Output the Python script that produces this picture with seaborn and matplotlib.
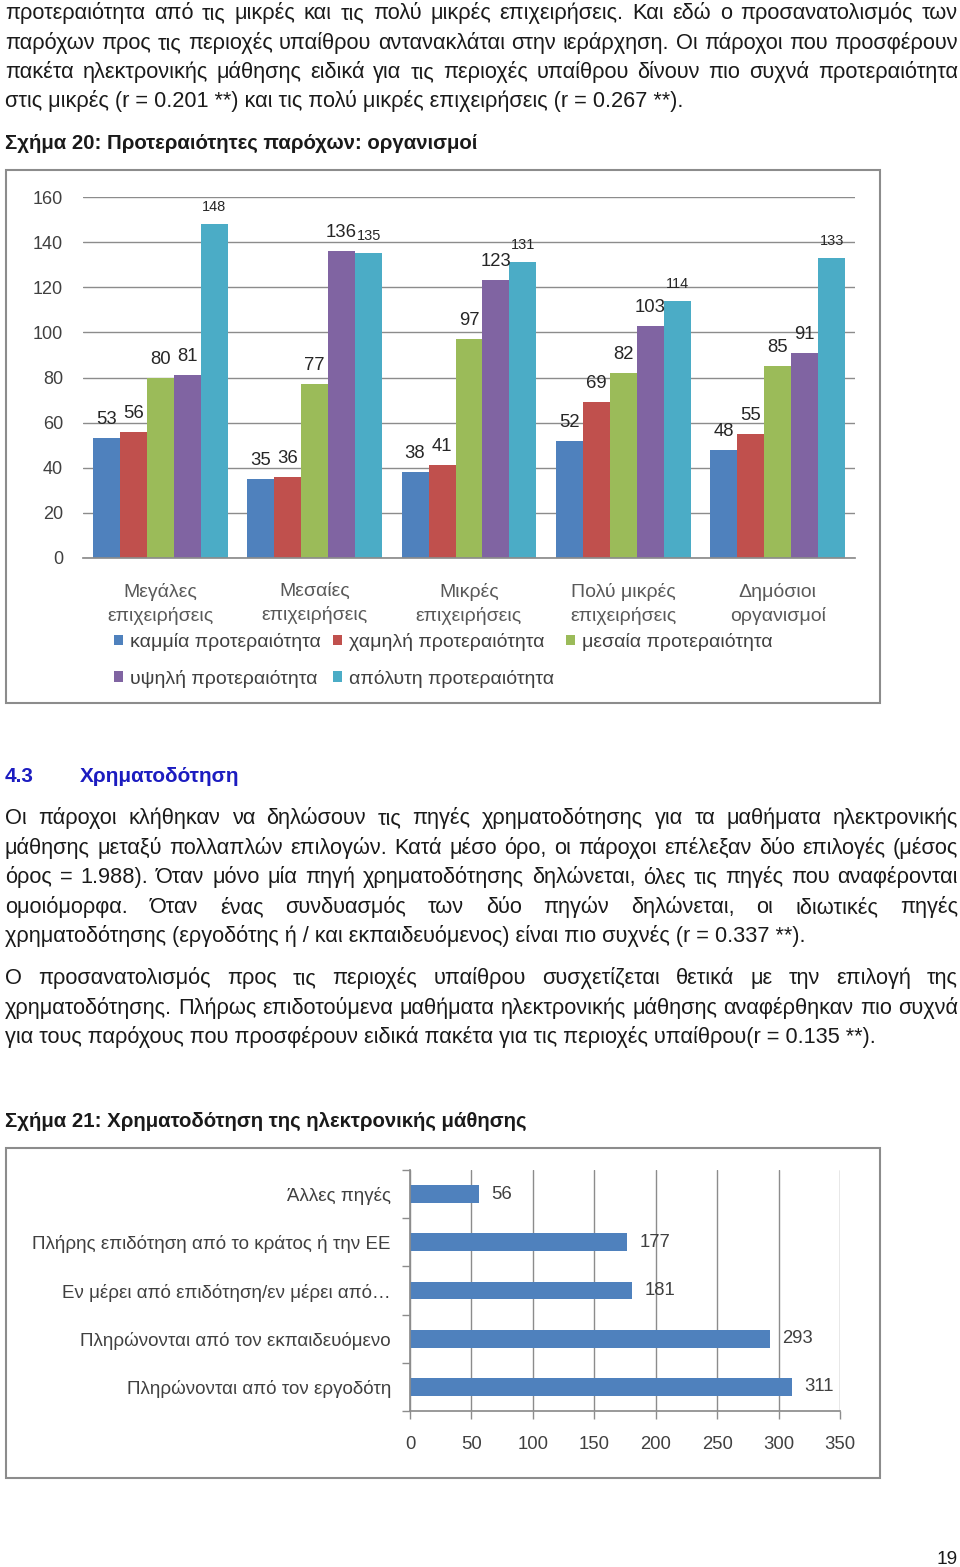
import matplotlib
matplotlib.use("Agg")
import matplotlib.pyplot as plt
import seaborn as sns
import pandas as pd
from matplotlib import font_manager
from matplotlib.patches import Rectangle, Patch

# ---------------- data ----------------
categories = ["Μεγάλες\nεπιχειρήσεις", "Μεσαίες\nεπιχειρήσεις", "Μικρές\nεπιχειρήσεις",
              "Πολύ μικρές\nεπιχειρήσεις", "Δημόσιοι\nοργανισμοί"]
series = ["καμμία προτεραιότητα", "χαμηλή προτεραιότητα", "μεσαία προτεραιότητα",
          "υψηλή προτεραιότητα", "απόλυτη προτεραιότητα"]
none_vals = [53, 35, 38, 52, 48]
low_vals = [56, 36, 41, 69, 55]
mid_vals = [80, 77, 97, 82, 85]
high_vals = [81, 136, 123, 103, 91]
abs_vals = [148, 135, 131, 114, 133]
y1_ticks = [0, 20, 40, 60, 80, 100, 120, 140, 160]

fund_labels = ["Άλλες πηγές", "Πλήρης επιδότηση από το κράτος ή την ΕΕ",
               "Εν μέρει από επιδότηση/εν μέρει από…", "Πληρώνονται από τον εκπαιδευόμενο",
               "Πληρώνονται από τον εργοδότη"]
fund_vals = [56, 177, 181, 293, 311]
x2_ticks = [0, 50, 100, 150, 200, 250, 300, 350]

colors = ["#4F81BD", "#C0504D", "#9BBB59", "#8064A2", "#4BACC6"]

# ---------------- setup ----------------
sns.set_theme(style="white")
names = {f.name for f in font_manager.fontManager.ttflist}
BODY = "Liberation Sans Narrow" if "Liberation Sans Narrow" in names else "Liberation Sans"
plt.rcParams["font.family"] = [BODY, "DejaVu Sans"]

W, H = 960, 1567
fig = plt.figure(figsize=(W / 100, H / 100), dpi=100)
fig.patch.set_facecolor("white")
renderer = fig.canvas.get_renderer()


def fx(x):
    return x / W


def fy(y):
    return 1 - y / H


def pt(p):
    return p * 0.72


TXT = "#1a1a1a"
GRID = "#8c8c8c"
LAB = "#404040"
BS = 21.8  # body text size in px


def line(text, x0, yb, x1=None, size=BS, **kw):
    if x1 is None:
        fig.text(fx(x0), fy(yb), text, fontsize=pt(size), va="baseline", ha="left", color=kw.pop("color", TXT), **kw)
        return
    words = text.split()
    ts = [fig.text(0, 0, w, fontsize=pt(size), va="baseline", ha="left", color=TXT, **kw) for w in words]
    ws = [t.get_window_extent(renderer).width for t in ts]
    gap = (x1 - x0 - sum(ws)) / (len(ws) - 1)
    x = x0
    for t, w in zip(ts, ws):
        t.set_position((fx(x), fy(yb)))
        x += w + gap


# ---------------- page text ----------------
R = 958
line("προτεραιότητα από τις μικρές και τις πολύ μικρές επιχειρήσεις. Και εδώ ο προσανατολισμός των", 5, 19, R)
line("παρόχων προς τις περιοχές υπαίθρου αντανακλάται στην ιεράρχηση. Οι πάροχοι που προσφέρουν", 5, 49, R)
line("πακέτα ηλεκτρονικής μάθησης ειδικά για τις περιοχές υπαίθρου δίνουν πιο συχνά προτεραιότητα", 5, 78, R)
line("στις μικρές (r = 0.201 **) και τις πολύ μικρές επιχειρήσεις (r = 0.267 **).", 5, 107)
line("Σχήμα 20: Προτεραιότητες παρόχων: οργανισμοί", 5, 149, size=20.4, fontweight="bold")

line("4.3", 5, 782, fontweight="bold", color="#1C1CC0", size=20.8)
line("Χρηματοδότηση", 80, 782, fontweight="bold", color="#1C1CC0", size=20.8)

line("Οι πάροχοι κλήθηκαν να δηλώσουν τις πηγές χρηματοδότησης για τα μαθήματα ηλεκτρονικής", 5, 824, R)
line("μάθησης μεταξύ πολλαπλών επιλογών. Κατά μέσο όρο, οι πάροχοι επέλεξαν δύο επιλογές (μέσος", 5, 854, R)
line("όρος = 1.988). Όταν μόνο μία πηγή χρηματοδότησης δηλώνεται, όλες τις πηγές που αναφέρονται", 5, 883, R)
line("ομοιόμορφα. Όταν ένας συνδυασμός των δύο πηγών δηλώνεται, οι ιδιωτικές πηγές", 5, 913, R)
line("χρηματοδότησης (εργοδότης ή / και εκπαιδευόμενος) είναι πιο συχνές (r = 0.337 **).", 5, 942)

line("Ο προσανατολισμός προς τις περιοχές υπαίθρου συσχετίζεται θετικά με την επιλογή της", 5, 984, R)
line("χρηματοδότησης. Πλήρως επιδοτούμενα μαθήματα ηλεκτρονικής μάθησης αναφέρθηκαν πιο συχνά", 5, 1014, R)
line("για τους παρόχους που προσφέρουν ειδικά πακέτα για τις περιοχές υπαίθρου(r = 0.135 **).", 5, 1043)

line("Σχήμα 21: Χρηματοδότηση της ηλεκτρονικής μάθησης", 5, 1127, size=20.4, fontweight="bold")

fig.text(fx(958), fy(1564), "19", fontsize=pt(19), ha="right", va="baseline", color=TXT)

# frames
for (x0, y0, x1, y1) in [(6, 170, 880, 703), (6, 1148, 880, 1478)]:
    fig.add_artist(Rectangle((fx(x0), fy(y1)), fx(x1 - x0), (y1 - y0) / H, transform=fig.transFigure,
                             fill=False, edgecolor=GRID, linewidth=1.5))

# ---------------- chart 1 ----------------
rows = []
for s, vals in zip(series, [none_vals, low_vals, mid_vals, high_vals, abs_vals]):
    for c, v in zip(categories, vals):
        rows.append({"cat": c, "series": s, "val": v})
df1 = pd.DataFrame(rows)

ax1 = fig.add_axes([fx(83), fy(558), fx(855 - 83), (558 - 197) / H])
sns.barplot(data=df1, x="cat", y="val", hue="series", order=categories, hue_order=series,
            palette=colors, saturation=1, width=0.874, linewidth=0, ax=ax1, legend=False)
ax1.set_ylim(0, 160)
ax1.set_yticks(y1_ticks)
ax1.set_xlabel("")
ax1.set_ylabel("")
ax1.yaxis.grid(True, color=GRID, linewidth=1)
ax1.set_axisbelow(True)
for s in ["left", "top", "right"]:
    ax1.spines[s].set_visible(False)
ax1.spines["bottom"].set_color(GRID)
ax1.tick_params(axis="y", length=0, pad=pt(20), labelsize=pt(18), labelcolor=LAB)
ax1.tick_params(axis="x", length=0, pad=pt(25), labelsize=pt(19.5), labelcolor="#595959")
for lab in ax1.get_xticklabels():
    lab.set_linespacing(1.4)

for i, cont in enumerate(ax1.containers):
    ax1.bar_label(cont, padding=pt(10), fontsize=pt(14.5) if i == 4 else pt(18.5), color="#262626")

handles = [Patch(facecolor=c, edgecolor="none") for c in colors]
order = [0, 3, 1, 4, 2]
fig.legend([handles[i] for i in order], [series[i] for i in order], ncol=3, loc="upper left",
           bbox_to_anchor=(fx(114), fy(633)), frameon=False, fontsize=pt(19.5), labelcolor=LAB,
           handlelength=0.46, handleheight=0.46, handletextpad=0.36, columnspacing=0.62,
           labelspacing=0.95, borderpad=0, borderaxespad=0)

# ---------------- chart 2 ----------------
df2 = pd.DataFrame({"label": fund_labels, "val": fund_vals})
ax2 = fig.add_axes([fx(410), fy(1411), fx(840 - 410), (1411 - 1170) / H])
sns.barplot(data=df2, x="val", y="label", orient="h", order=fund_labels, color=colors[0],
            saturation=1, width=0.367, linewidth=0, ax=ax2)
ax2.set_xlim(0, 350)
ax2.set_xticks(x2_ticks)
ax2.set_xlabel("")
ax2.set_ylabel("")
ax2.xaxis.grid(True, color=GRID, linewidth=1)
ax2.set_axisbelow(True)
for s in ["top", "right"]:
    ax2.spines[s].set_visible(False)
for s in ["left", "bottom"]:
    ax2.spines[s].set_color(GRID)
ax2.set_yticks([i - 0.5 for i in range(6)], minor=True)
ax2.tick_params(axis="y", which="major", length=0, pad=pt(19), labelsize=pt(18.8), labelcolor=LAB)
ax2.tick_params(axis="y", which="minor", length=6, color=GRID, width=1, left=True)
ax2.tick_params(axis="x", length=6, color=GRID, width=1, bottom=True, pad=pt(17),
                labelsize=pt(18.5), labelcolor=LAB)
ax2.bar_label(ax2.containers[0], padding=pt(12), fontsize=pt(18.5), color=LAB)

fig.savefig("out.png", dpi=100, facecolor="white")
